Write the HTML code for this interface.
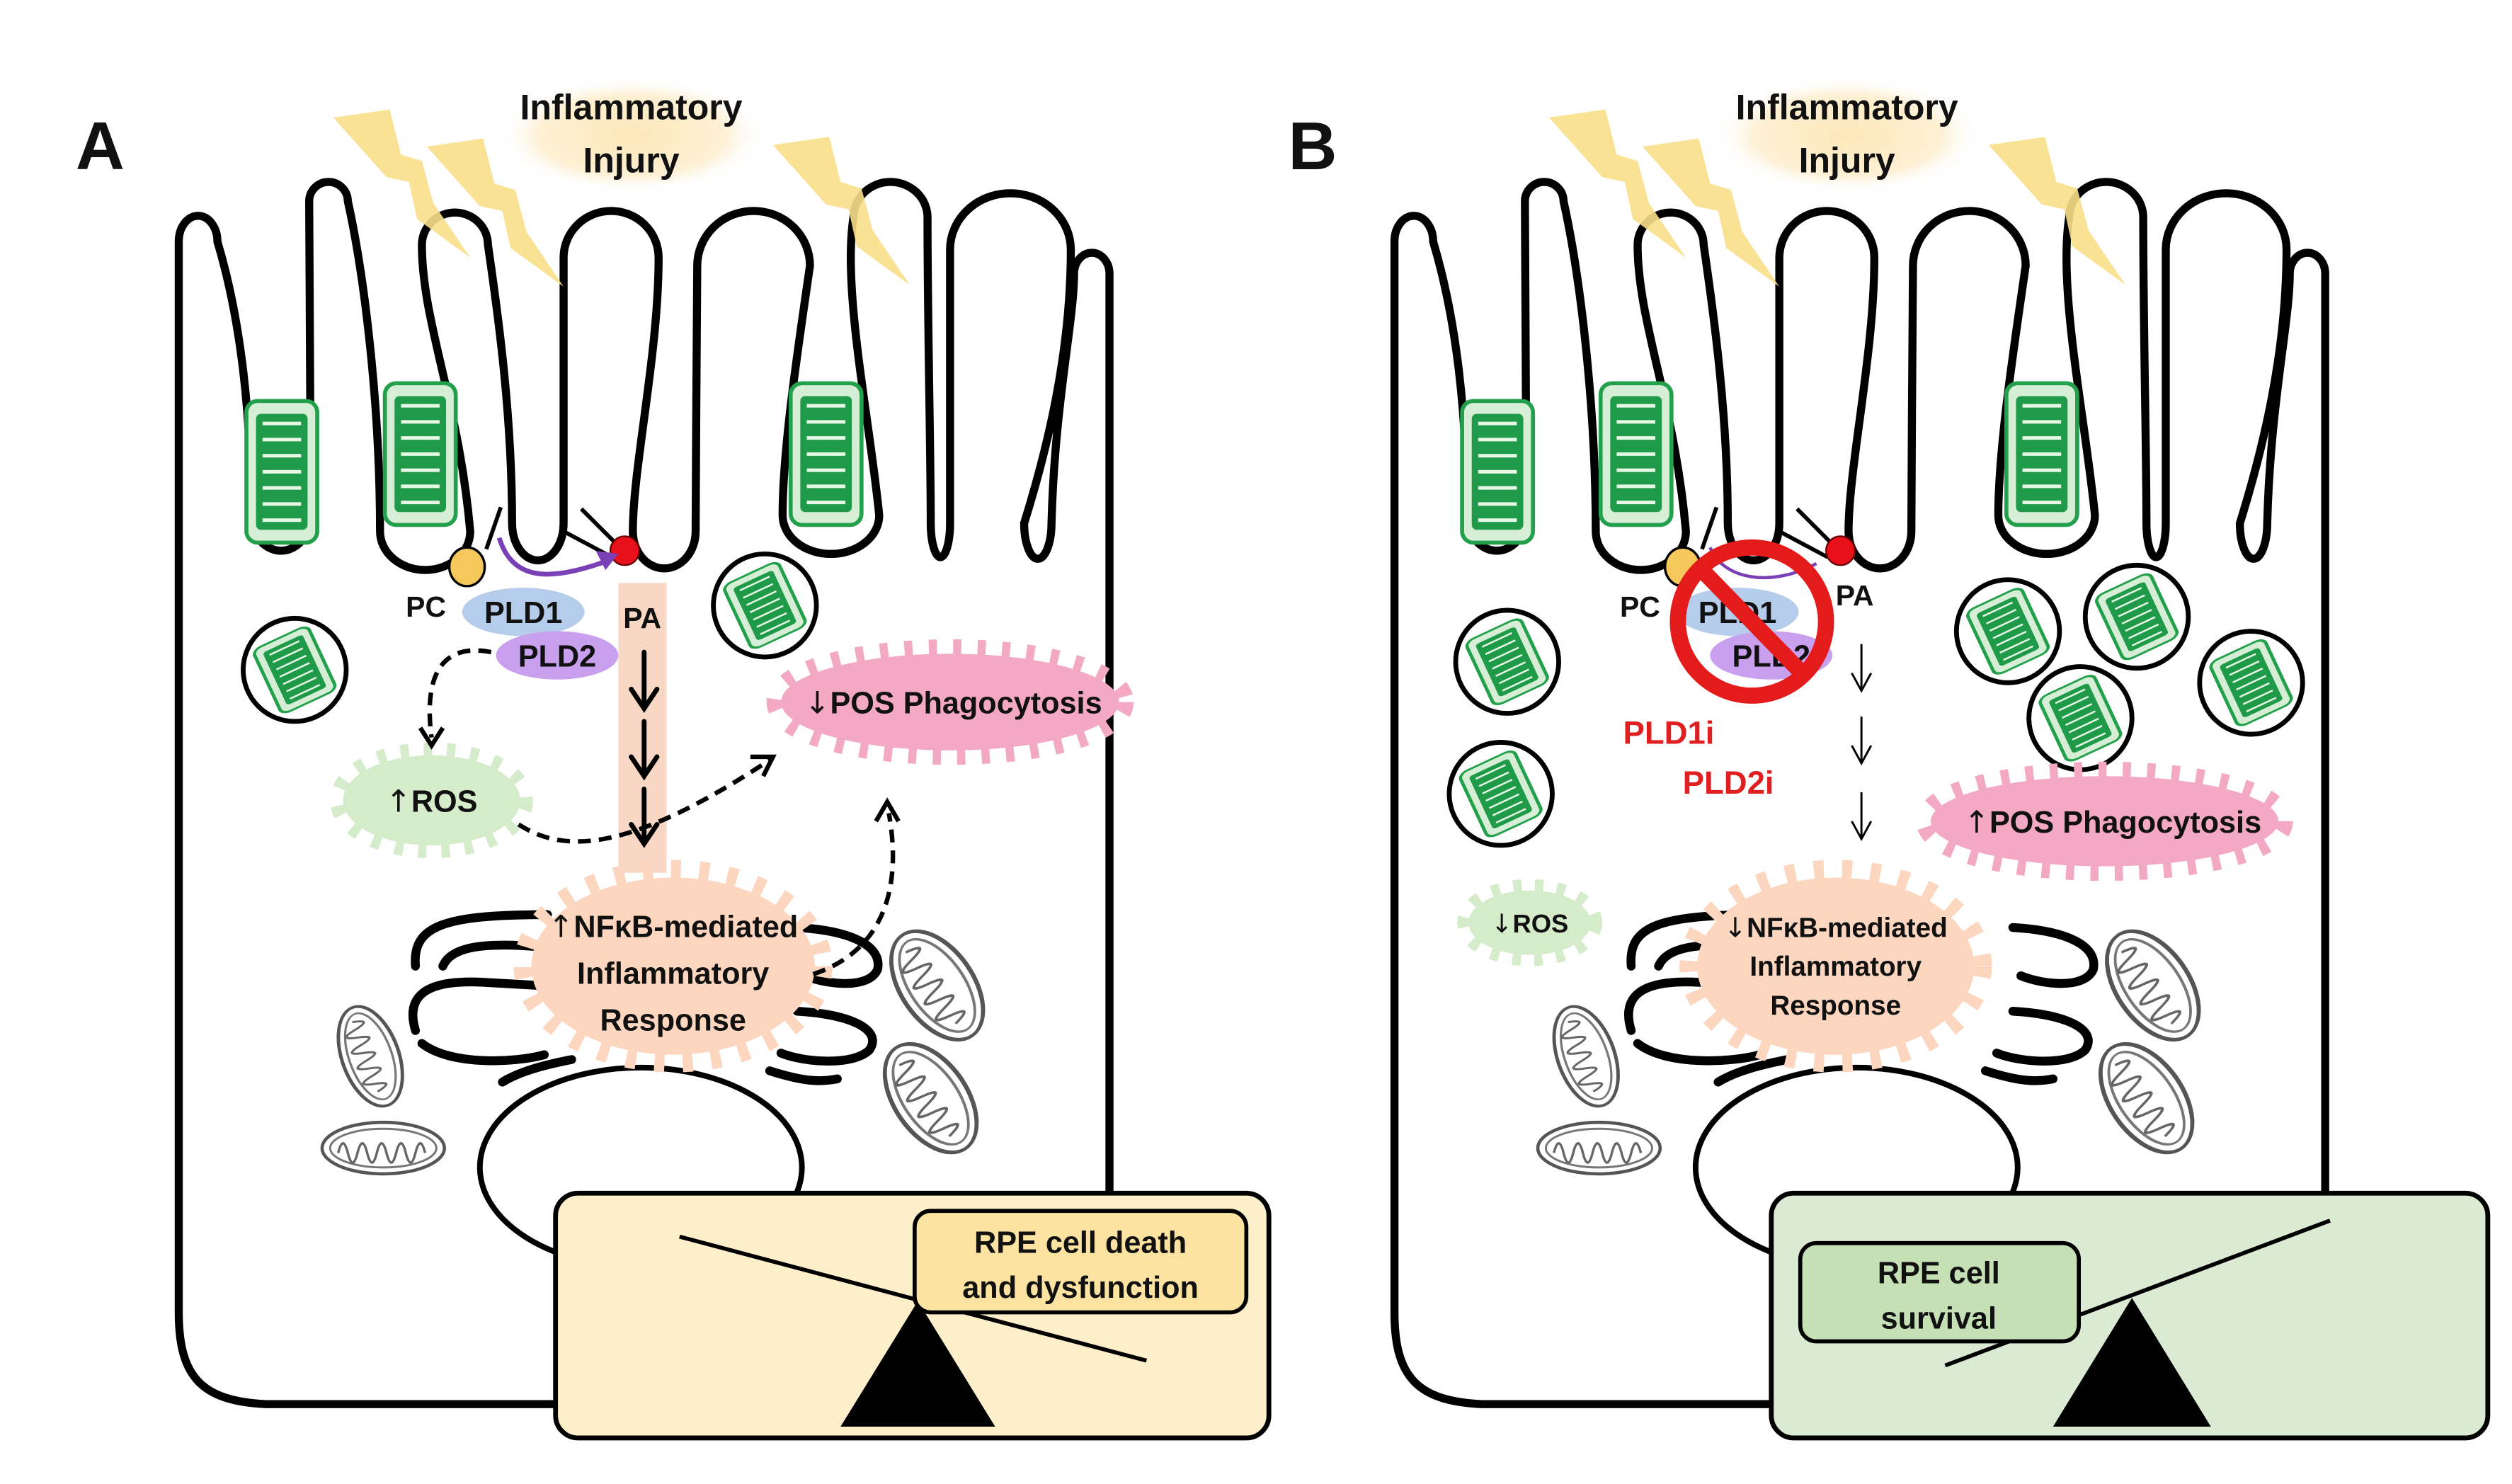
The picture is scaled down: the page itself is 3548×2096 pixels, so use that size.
<!DOCTYPE html>
<html><head><meta charset="utf-8"><style>
html,body{margin:0;padding:0;background:#fff}
svg{display:block}
text{font-family:"Liberation Sans",sans-serif;font-weight:bold;fill:#111}
.ar{font-family:"DejaVu Sans",sans-serif;font-weight:normal}
</style></head><body>
<svg width="3548" height="2096" viewBox="0 0 1560 921.6" xmlns="http://www.w3.org/2000/svg">
<defs>
<radialGradient id="glow" cx="50%" cy="50%" r="50%"><stop offset="0" stop-color="#fde7b8"/><stop offset="0.7" stop-color="#fdf0d4"/><stop offset="1" stop-color="#fff" stop-opacity="0"/></radialGradient>
<g id="pos">
<rect x="0" y="0" width="44" height="88" rx="7" fill="#d6eed6" stroke="#23a04c" stroke-width="2.5"/>
<rect x="6" y="8" width="32" height="72" rx="3" fill="#1f9a48"/>
<g stroke="#e6f7e6" stroke-width="2.2">
<line x1="10" y1="14" x2="34" y2="14"/><line x1="10" y1="24" x2="34" y2="24"/><line x1="10" y1="34" x2="34" y2="34"/><line x1="10" y1="44" x2="34" y2="44"/><line x1="10" y1="54" x2="34" y2="54"/><line x1="10" y1="64" x2="34" y2="64"/><line x1="10" y1="74" x2="34" y2="74"/></g>
</g>
<g id="phago">
<circle cx="0" cy="0" r="32" fill="#fff" stroke="#000" stroke-width="3"/>
<g transform="rotate(-25) scale(0.85 0.5) translate(-22,-44)"><use href="#pos"/></g>
</g>
<g id="bolt"><path d="M0,5 L35,0 L42,28 L55,32 L62,58 L85,92 L52,68 L47,45 L33,42 Z" fill="#f9df88" opacity="0.9"/></g>
<g id="mito1">
<ellipse cx="0" cy="0" rx="38" ry="16" fill="#fff" stroke="#555" stroke-width="2"/>
<ellipse cx="0" cy="0" rx="33" ry="12" fill="none" stroke="#777" stroke-width="1.3"/>
<path d="M-28,3 q3,-12 6,0 q3,12 6,0 q3,-12 6,0 q3,12 6,0 q3,-12 6,0 q3,12 6,0 q3,-12 6,0 q3,12 6,0 q3,-12 6,0" fill="none" stroke="#666" stroke-width="1.5"/>
</g>
<g id="cell">
<path d="M111,815 L111,150 A12,16 0 0 1 135,150 C150,200 156,260 156,320 A18.5,22 0 0 0 193,320 L192,125 A12,12 0 0 1 216,125 C226,170 236,250 236,330 A28,24 0 0 0 292,330 C285,250 262,200 262,152 A20.5,20 0 0 1 303,152 C310,200 318,260 318,325 A16,23 0 0 0 350,325 L350,160 A29.5,29 0 0 1 409,160 C409,220 393,290 393,330 A19.5,23 0 0 0 432,330 C432,280 433,200 433,165 A35,34 0 0 1 503,165 C495,220 486,280 486,320 A30,24 0 0 0 546,320 C540,260 523,180 530,135 A23,22 0 0 1 576,135 C576,200 578,280 578,325 A6,21 0 0 0 590,325 L590,155 A37.5,35 0 0 1 665,155 C665,220 650,280 636,325 A8.5,22 0 0 0 653,325 C655,250 667,200 667,170 A11,13 0 0 1 689,170 L689,742" fill="none" stroke="#000" stroke-width="5" stroke-linejoin="round"/>
<path d="M111,815 C111,855 125,870 165,872 L346,872" fill="none" stroke="#000" stroke-width="5"/>
<use href="#pos" transform="translate(153,249)"/>
<use href="#pos" transform="translate(239,238)"/>
<use href="#pos" transform="translate(491,238)"/>
<ellipse cx="398" cy="725" rx="100" ry="62" fill="#fff" stroke="#000" stroke-width="3.5"/>
<g fill="none" stroke="#000" stroke-width="5.5" stroke-linecap="round">
<path d="M258,600 C256,575 275,568 340,568"/>
<path d="M258,640 C252,620 262,608 300,610 L335,612"/>
<path d="M275,600 C280,588 300,585 335,588"/>
<path d="M262,648 C280,662 320,660 338,655"/>
<path d="M312,672 C325,664 345,660 355,658"/>
<path d="M495,576 C530,578 548,588 545,602 C540,614 515,612 500,606"/>
<path d="M495,628 C530,630 548,640 540,652 C530,662 500,660 485,654"/>
<path d="M478,665 C500,672 510,672 520,670"/>
</g>
<use href="#mito1" transform="translate(230,656) rotate(70) scale(0.85 1.1)"/>
<use href="#mito1" transform="translate(238,713)"/>
<use href="#mito1" transform="translate(582,612) rotate(55) scale(1 1.4)"/>
<use href="#mito1" transform="translate(578,682) rotate(55) scale(1 1.4)"/>
<line x1="302" y1="341" x2="311" y2="315" stroke="#000" stroke-width="2.5"/>
<ellipse cx="290" cy="352" rx="11" ry="12" fill="#f5c85c" stroke="#000" stroke-width="1.5"/>
<line x1="381" y1="336" x2="361" y2="316" stroke="#000" stroke-width="2.5"/>
<line x1="380" y1="346" x2="350" y2="330" stroke="#000" stroke-width="2.5"/>
<circle cx="388" cy="342" r="9" fill="#e8101a" stroke="#600" stroke-width="1"/>
<use href="#bolt" transform="translate(207,68)"/>
<use href="#bolt" transform="translate(265,86)"/>
<use href="#bolt" transform="translate(480,85)"/>
<rect x="310" y="48" width="165" height="72" fill="url(#glow)"/>
<text x="392" y="74" font-size="22" text-anchor="middle">Inflammatory</text>
<text x="392" y="107" font-size="22" text-anchor="middle">Injury</text>
</g>
</defs>

<!-- PANEL A -->
<text x="47" y="105" font-size="42">A</text>
<rect x="384" y="362" width="30" height="180" fill="#f8d8c4"/>
<use href="#cell"/>
<use href="#phago" transform="translate(183,416)"/>
<use href="#phago" transform="translate(475,376)"/>
<path d="M310,334 C318,360 340,362 378,348" fill="none" stroke="#7a40b5" stroke-width="3"/>
<path d="M384,344 L370,342 L376,354 Z" fill="#7a40b5"/>
<ellipse cx="325" cy="380" rx="38" ry="15" fill="#b5cdea"/>
<ellipse cx="346" cy="407" rx="38" ry="15" fill="#c8a0ee"/>
<text x="325" y="387" font-size="19" text-anchor="middle">PLD1</text>
<text x="346" y="414" font-size="19" text-anchor="middle">PLD2</text>
<text x="252" y="383" font-size="18">PC</text>
<text x="387" y="390" font-size="18">PA</text>
<g stroke="#000" stroke-width="3" fill="none" stroke-linecap="round">
<path d="M400,405 L400,438 M392,428 L400,440 L408,428"/>
<path d="M400,448 L400,480 M392,470 L400,482 L408,470"/>
<path d="M400,490 L400,522 M392,512 L400,524 L408,512"/>
</g>
<ellipse cx="268" cy="497" rx="55" ry="28" fill="#d5eccb" stroke="#d5eccb" stroke-width="16" stroke-dasharray="5 9"/>
<text x="268" y="504" font-size="19" text-anchor="middle"><tspan class="ar">↑</tspan>ROS</text>
<ellipse cx="590" cy="436" rx="105" ry="30" fill="#f3a9c3" stroke="#f3a9c3" stroke-width="18" stroke-dasharray="5 10"/>
<text x="592" y="443" font-size="19" text-anchor="middle"><tspan class="ar">↓</tspan>POS Phagocytosis</text>
<ellipse cx="418" cy="600" rx="88" ry="55" fill="#fcd6bf" stroke="#fcd6bf" stroke-width="22" stroke-dasharray="6 11"/>
<text x="418" y="582" font-size="19" text-anchor="middle"><tspan class="ar">↑</tspan>NFκB-mediated</text>
<text x="418" y="611" font-size="19" text-anchor="middle">Inflammatory</text>
<text x="418" y="640" font-size="19" text-anchor="middle">Response</text>
<g fill="none" stroke="#000" stroke-width="2.8" stroke-dasharray="8 5">
<path d="M305,405 C280,400 262,412 268,458"/>
<path d="M322,512 C350,530 390,530 478,472"/>
<path d="M505,605 C550,590 560,550 552,505"/>
</g>
<g fill="none" stroke="#000" stroke-width="2.8">
<path d="M261,452 L268,463 L275,452"/>
<path d="M466,470 L480,470 L474,482"/>
<path d="M544,510 L551,498 L558,510"/>
</g>
<rect x="345" y="741" width="443" height="152" rx="14" fill="#fdefc9" stroke="#000" stroke-width="3"/>
<line x1="422" y1="768" x2="712" y2="845" stroke="#000" stroke-width="2.5"/>
<polygon points="522,886 618,886 570,808" fill="#000"/>
<rect x="568" y="752" width="206" height="63" rx="10" fill="#fde3a1" stroke="#000" stroke-width="2.5"/>
<text x="671" y="778" font-size="19" text-anchor="middle">RPE cell death</text>
<text x="671" y="806" font-size="19" text-anchor="middle">and dysfunction</text>

<!-- PANEL B -->
<text x="800" y="105" font-size="42">B</text>
<g transform="translate(755,0)"><use href="#cell"/></g>
<use href="#phago" transform="translate(936,411)"/>
<use href="#phago" transform="translate(932,493)"/>
<use href="#phago" transform="translate(1247,392)"/>
<use href="#phago" transform="translate(1327,383)"/>
<use href="#phago" transform="translate(1292,446)"/>
<use href="#phago" transform="translate(1398,424)"/>
<path d="M1062,340 C1070,360 1100,365 1128,350" fill="none" stroke="#7a40b5" stroke-width="2"/>
<ellipse cx="1079" cy="380" rx="38" ry="15" fill="#b5cdea"/>
<ellipse cx="1100" cy="407" rx="38" ry="15" fill="#c8a0ee"/>
<text x="1079" y="387" font-size="19" text-anchor="middle">PLD1</text>
<text x="1100" y="414" font-size="19" text-anchor="middle">PLD2</text>
<circle cx="1088" cy="386" r="46" fill="none" stroke="#e41b1b" stroke-width="10"/>
<line x1="1056" y1="353" x2="1120" y2="419" stroke="#e41b1b" stroke-width="10"/>
<text x="1006" y="383" font-size="18">PC</text>
<text x="1140" y="376" font-size="18">PA</text>
<text x="1008" y="462" font-size="20" style="fill:#e02020">PLD1i</text>
<text x="1045" y="493" font-size="20" style="fill:#e02020">PLD2i</text>
<g stroke="#000" stroke-width="1.3" fill="none">
<path d="M1156,400 L1156,428 M1150,418 L1156,429 L1162,418"/>
<path d="M1156,445 L1156,473 M1150,463 L1156,474 L1162,463"/>
<path d="M1156,492 L1156,520 M1150,510 L1156,521 L1162,510"/>
</g>
<ellipse cx="950" cy="573" rx="38" ry="20" fill="#d5eccb" stroke="#d5eccb" stroke-width="14" stroke-dasharray="5 8"/>
<text x="950" y="579" font-size="16" text-anchor="middle"><tspan class="ar">↓</tspan>ROS</text>
<ellipse cx="1307" cy="510" rx="108" ry="28" fill="#f3a9c3" stroke="#f3a9c3" stroke-width="18" stroke-dasharray="5 10"/>
<text x="1312" y="517" font-size="19" text-anchor="middle"><tspan class="ar">↑</tspan>POS Phagocytosis</text>
<ellipse cx="1140" cy="600" rx="86" ry="55" fill="#fcd6bf" stroke="#fcd6bf" stroke-width="22" stroke-dasharray="6 11"/>
<text x="1140" y="582" font-size="17" text-anchor="middle"><tspan class="ar">↓</tspan>NFκB-mediated</text>
<text x="1140" y="606" font-size="17" text-anchor="middle">Inflammatory</text>
<text x="1140" y="630" font-size="17" text-anchor="middle">Response</text>
<rect x="1100" y="741" width="445" height="152" rx="14" fill="#dbead2" stroke="#000" stroke-width="3"/>
<line x1="1208" y1="848" x2="1447" y2="758" stroke="#000" stroke-width="2.5"/>
<polygon points="1275,886 1373,886 1324,806" fill="#000"/>
<rect x="1118" y="772" width="173" height="61" rx="10" fill="#c6e0b6" stroke="#000" stroke-width="2.5"/>
<text x="1204" y="797" font-size="19" text-anchor="middle">RPE cell</text>
<text x="1204" y="825" font-size="19" text-anchor="middle">survival</text>
</svg>
</body></html>
